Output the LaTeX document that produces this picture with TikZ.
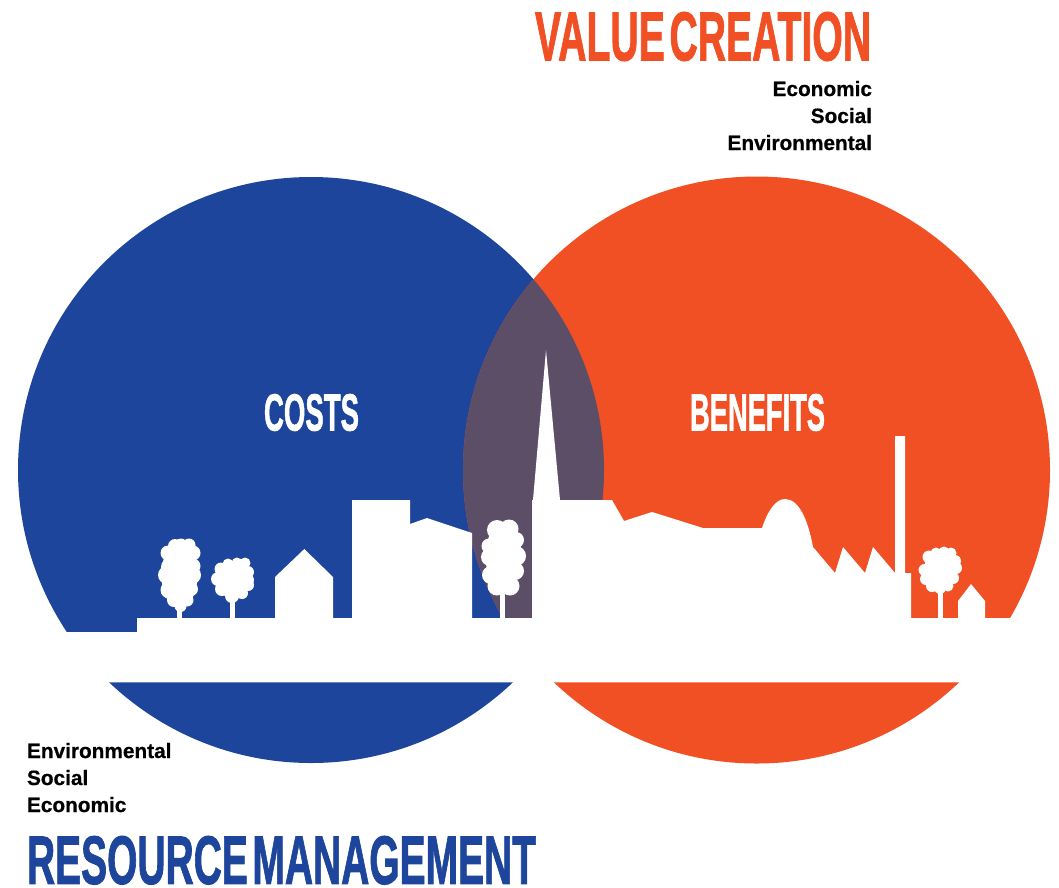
\documentclass[tikz,border=0pt]{standalone}
\usepackage{fontspec}
\usepackage{graphicx}
\setmainfont{Liberation Sans}
\newfontfamily\labelfont[BoldFont={Liberation Sans Bold},BoldFeatures={FakeBold=0.6}]{Liberation Sans}
\newfontfamily\headfont[BoldFont={Liberation Sans Bold},BoldFeatures={FakeBold=1.6}]{Liberation Sans}
\definecolor{costblue}{HTML}{1D459C}
\definecolor{benefitorange}{HTML}{F15025}
\definecolor{overlapgrey}{HTML}{5D4E68}
\newcommand{\headtext}[3]{\resizebox*{#1pt}{#2pt}{\headfont\bfseries #3}}
\newcommand{\headgap}{\hspace{0.12em}}
\tikzset{
  headnode/.style={inner sep=0pt,outer sep=0pt,anchor=north west},
  sidenode/.style={inner sep=0pt,outer sep=0pt,font=\labelfont\bfseries\fontsize{20.8}{20.8}\selectfont},
  crown/.style={fill=white,draw=none}
}
\begin{document}
\begin{tikzpicture}[x=1pt,y=-1pt]
\useasboundingbox (0,0) rectangle (1059,887);
\fill[costblue] (311,470) circle (293);
\fill[benefitorange] (756.5,470) circle (293.5);
\begin{scope}
\clip (311,470) circle (293);
\fill[overlapgrey] (756.5,470) circle (293.5);
\end{scope}
% ground band and skyline
\fill[white] (-5,632) -- (137,632) -- (137,618) -- (275,618) -- (275,577) -- (304.3,549) -- (333,577) -- (333,618)
  -- (352,618) -- (352,500) -- (410,500) -- (410,524) -- (427,518) -- (472,533) -- (472,618)
  -- (532,618) -- (532,500) -- (533,500) -- (546,350) -- (560,500) -- (612,500) -- (624,521) -- (652,512) -- (703,528) -- (762,528)
  .. controls (768,510) and (776,499) .. (785,499)
  .. controls (799,499) and (808,520) .. (813,547)
  -- (835,573) -- (843,547) -- (865,573) -- (873,547) -- (895,573) -- (895,436) -- (905,436) -- (905,573) -- (911,573) -- (911,618)
  -- (958,618) -- (958,601) -- (971,584) -- (985,601) -- (985,618) -- (1064,618) -- (1064,682.3) -- (-5,682.3) -- cycle;
% trunks
\fill[white] (177,600) rectangle (182,619);
\fill[white] (230,598) rectangle (235,619);
\fill[white] (500,590) rectangle (505,619);
\fill[white] (938,590) rectangle (943,619);
% tree crowns
\fill[crown] (179.5,575) ellipse (18 and 33);
\foreach \cx/\cy/\r in {168/553/7.5,175/546/7,181/545/6.5,189/545/6.5,193/553/7.5,170/567/9,193/566/7.5,167/575/9,192/575/9,169/590/8.5,191/589/7,174/600/7,187/600/6.5,180.5/606/6}
  \fill[crown] (\cx,\cy) circle (\r);
\fill[crown] (232.5,580) ellipse (16 and 18);
\foreach \cx/\cy/\r in {221/569/6.5,228/564/5.5,237/563/5.5,245/563/5.5,248/572/6,247/580/7,218/579/7,222/589/7,232/596/7,242/593/6,248/585/6}
  \fill[crown] (\cx,\cy) circle (\r);
\fill[crown] (503.5,556) ellipse (18 and 33);
\foreach \cx/\cy/\r in {497/530/10,509/529/9.5,516/540/8,516/556/10,489/546/7.5,490/557/9,491/575/9,515/571/9,497/586/9.5,510/586/9.5}
  \fill[crown] (\cx,\cy) circle (\r);
\fill[crown] (940,570) ellipse (16 and 20);
\foreach \cx/\cy/\r in {929/557/6.5,936/553/5.5,944/552/5.5,951/553/5.5,955/561/6,924.5/570/6,956/568/6,926/579/6,932/586/6,940/588/6,948/586/5.5,953/578/6}
  \fill[crown] (\cx,\cy) circle (\r);
% text
\node[headnode,text=benefitorange] (valuecreation) at (535,12) {\headtext{336}{49}{VALUE\headgap CREATION}};
\node[headnode,text=costblue] (resourcemgmt) at (27,836) {\headtext{509}{48.5}{RESOURCE\headgap MANAGEMENT}};
\node[headnode,text=white] (costs) at (264,394) {\headtext{95}{37}{COSTS}};
\node[headnode,text=white] (benefits) at (690,394) {\headtext{135}{37}{BENEFITS}};
\node[sidenode,anchor=base east] (econr) at (872,96) {Economic};
\node[sidenode,anchor=base east] (socr) at (872,123) {Social};
\node[sidenode,anchor=base east] (envr) at (872,150) {Environmental};
\node[sidenode,anchor=base west] (envl) at (27,758) {Environmental};
\node[sidenode,anchor=base west] (socl) at (27,785) {Social};
\node[sidenode,anchor=base west] (econl) at (27,812) {Economic};
\end{tikzpicture}
\end{document}
